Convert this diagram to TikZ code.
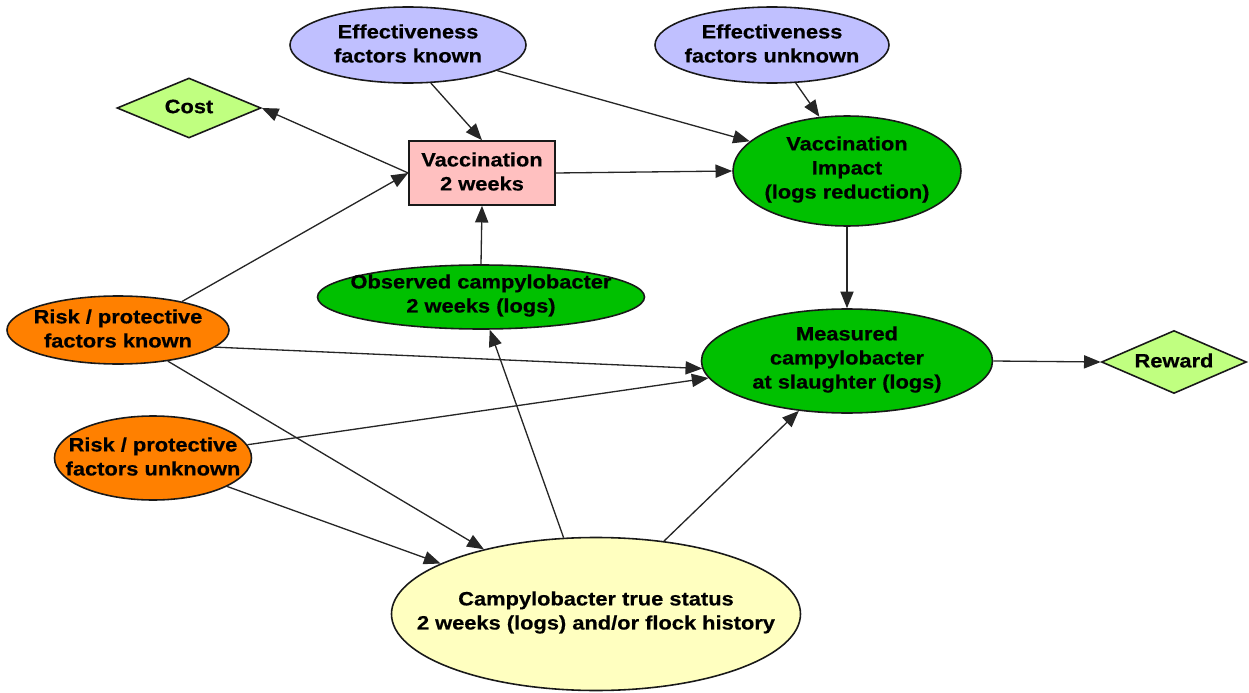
\documentclass[tikz,border=0pt]{standalone}
\usepackage{fontspec}
\setmainfont{Liberation Sans}[FakeStretch=1.13, BoldFeatures={FakeBold=0.5}]
\usetikzlibrary{shapes.geometric,arrows.meta}
\definecolor{lav}{RGB}{192,192,255}
\definecolor{pinkbox}{RGB}{255,192,192}
\definecolor{grn}{RGB}{0,192,0}
\definecolor{orng}{RGB}{255,128,0}
\definecolor{yel}{RGB}{255,255,192}
\definecolor{lgrn}{RGB}{192,255,128}
\begin{document}
\begin{tikzpicture}[x=0.02cm,y=-0.02cm,
  shp/.style={draw=black!90, line width=0.9pt, inner sep=0pt},
  ell/.style n args={3}{shp, ellipse, fill=#3, minimum width=#1*0.02cm, minimum height=#2*0.02cm},
  dia/.style 2 args={shp, diamond, fill=lgrn, minimum width=#1*0.02cm, minimum height=#2*0.02cm},
  box/.style 2 args={shp, rectangle, fill=pinkbox, minimum width=#1*0.02cm, minimum height=#2*0.02cm},
  txt/.style={inner sep=0pt, align=center, yshift=0.03cm, font=\fontsize{11}{13.7}\selectfont\bfseries},
  arr/.style={draw=black!85, line width=0.75pt, -{Triangle[length=9.5pt,width=7.5pt]}}]
\useasboundingbox (0,0) rectangle (1249,693);

% shapes
\node[ell={236}{76}{lav}] (efk) at (408,45) {};
\node[ell={234}{76}{lav}] (efu) at (772,45) {};
\node[dia={144}{60}] (cost) at (189,108) {};
\node[box={146}{64}] (vac) at (482,173) {};
\node[ell={228}{110}{grn}] (vi) at (847,171) {};
\node[ell={327}{64}{grn}] (obs) at (481,297) {};
\node[ell={222}{68}{orng}] (rpk) at (118,330) {};
\node[ell={291}{104}{grn}] (meas) at (847,361) {};
\node[dia={145}{63}] (reward) at (1174,362) {};
\node[ell={197}{84}{orng}] (rpu) at (153,458) {};
\node[ell={409}{153}{yel}] (true) at (596,614) {};

% labels
\node[txt] (efk-t) at (efk) {Effectiveness\\factors known};
\node[txt] (efu-t) at (efu) {Effectiveness\\factors unknown};
\node[txt] (cost-t) at (cost) {Cost};
\node[txt] (vac-t) at (vac) {Vaccination\\2 weeks};
\node[txt] (vi-t) at (vi) {Vaccination\\Impact\\(logs reduction)};
\node[txt] (obs-t) at (obs) {Observed campylobacter\\2 weeks (logs)};
\node[txt] (rpk-t) at (rpk) {Risk / protective\\factors known};
\node[txt] (meas-t) at (meas) {Measured\\campylobacter\\at slaughter (logs)};
\node[txt] (reward-t) at (reward) {Reward};
\node[txt] (rpu-t) at (rpu) {Risk / protective\\factors unknown};
\node[txt] (true-t) at (true) {Campylobacter true status\\2 weeks (logs) and/or flock history};

% connectors
\draw[arr] (efk.-59) -- (vac.north);
\draw[arr] (efk.-16) -- (vi.163);
\draw[arr] (efu.-58) -- (vi.117);
\draw[arr] (vac.west) -- (cost.east);
\draw[arr] (vac.east) -- (vi.west);
\draw[arr] (obs.north) -- (vac.south);
\draw[arr] (rpk.24) -- (vac.west);
\draw[arr] (rpk.-10) -- (meas.183);
\draw[arr] (rpk.-32) -- (true.150);
\draw[arr] (rpu.8) -- (meas.187);
\draw[arr] (rpu.-21) -- (true.162);
\draw[arr] (true.113) -- (obs.-75);
\draw[arr] (true.47) -- (meas.-134);
\draw[arr] (vi.south) -- (meas.north);
\draw[arr] (meas.east) -- (reward.west);
\end{tikzpicture}
\end{document}
